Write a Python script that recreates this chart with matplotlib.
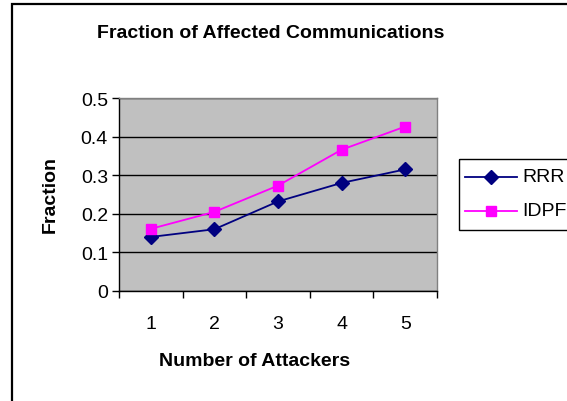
import matplotlib.pyplot as plt
from matplotlib.patches import Rectangle

plt.rcParams['font.family'] = ['Liberation Sans', 'DejaVu Sans']

attackers = [1, 2, 3, 4, 5]
rrr = [0.14, 0.16, 0.232, 0.28, 0.315]
idpf = [0.161, 0.205, 0.273, 0.366, 0.426]
yticks = [0, 0.1, 0.2, 0.3, 0.4, 0.5]

W, H = 567, 402
fig = plt.figure(figsize=(W / 100, H / 100), dpi=100)

# outer chart frame (runs past right/bottom edge of the image)
fig.patches.append(Rectangle((12 / W, -0.2), 1.5, 1.2 - 5 / H, transform=fig.transFigure,
                             fill=False, edgecolor='black', lw=1.6))

ax = fig.add_axes([119 / W, 1 - 292 / H, 318 / W, 193 / H])
ax.set_facecolor('#c0c0c0')
ax.plot(attackers, rrr, color='#000080', marker='D', ms=7, lw=1.3, label='RRR', zorder=3)
ax.plot(attackers, idpf, color='#ff00ff', marker='s', ms=7, lw=1.3, label='IDPF', zorder=3)

ax.set_xlim(0.5, 5.5)
ax.set_ylim(0, 0.5)
ax.set_yticks(yticks)
ax.set_yticklabels(['0', '0.1', '0.2', '0.3', '0.4', '0.5'], fontsize=14)
ax.yaxis.grid(True, color='black', lw=1)
ax.set_axisbelow(True)

# category axis: labels at centres, ticks on the boundaries
ax.set_xticks(attackers)
ax.set_xticklabels([str(a) for a in attackers], fontsize=14)
ax.tick_params(axis='x', which='major', length=0, pad=17)
ax.set_xticks([a + 0.5 for a in [0] + attackers], minor=True)
ax.tick_params(axis='x', which='minor', length=5, width=1, direction='out')
ax.tick_params(axis='y', length=5, width=1, direction='out', pad=3)

for s in ['left', 'bottom']:
    ax.spines[s].set_color('black')
    ax.spines[s].set_linewidth(1)
for s in ['top', 'right']:
    ax.spines[s].set_color('#808080')
    ax.spines[s].set_linewidth(1)

fig.text(271 / W, 1 - 33 / H, 'Fraction of Affected Communications', ha='center', va='center',
         fontsize=14, fontweight='bold')
fig.text(255 / W, 1 - 362 / H, 'Number of Attackers', ha='center', va='center',
         fontsize=14, fontweight='bold')
fig.text(50 / W, 1 - 195 / H, 'Fraction', ha='center', va='center', rotation=90,
         fontsize=14, fontweight='bold')

# legend box, cut off at the right edge
lg = fig.add_axes([458 / W, 1 - 231 / H, 130 / W, 72 / H])
lg.set_xlim(0, 130)
lg.set_ylim(72, 0)
lg.axis('off')
lg.add_patch(Rectangle((0.5, 0.5), 200, 71, fill=False, edgecolor='black', lw=1, clip_on=False))
for yy, name, col, mk in [(19, 'RRR', '#000080', 'D'), (53, 'IDPF', '#ff00ff', 's')]:
    lg.plot([7, 59], [yy, yy], color=col, lw=1.3, clip_on=False)
    lg.plot([33], [yy], color=col, marker=mk, ms=7, clip_on=False)
    lg.text(64, yy, name, fontsize=14, va='center', ha='left')

fig.savefig('out.png', dpi=100)
